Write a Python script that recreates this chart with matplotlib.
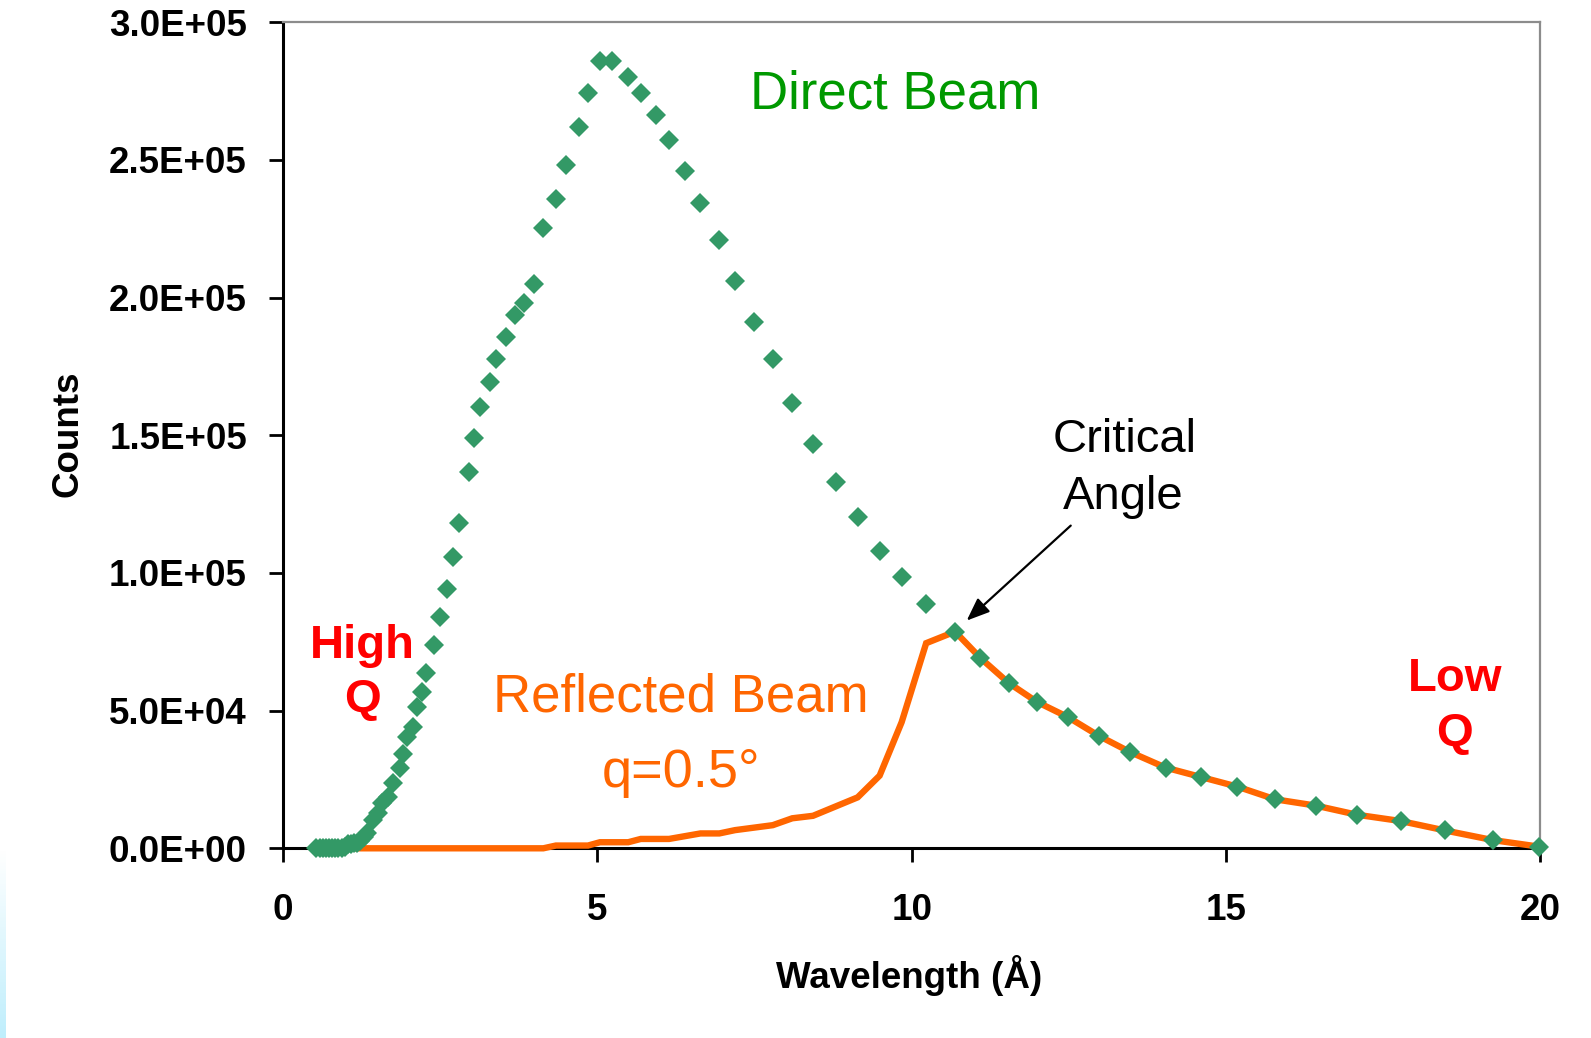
import matplotlib
matplotlib.use("Agg")
import matplotlib.pyplot as plt
from matplotlib.ticker import FuncFormatter, FixedLocator
import numpy as np

# ---------------- data ----------------
wavelength = [0.53, 0.58, 0.63, 0.68, 0.73, 0.78, 0.83, 0.88, 0.93, 0.98,
              1.03, 1.08, 1.13, 1.18, 1.23, 1.28, 1.33, 1.43, 1.51, 1.57,
              1.67, 1.75, 1.86, 1.91, 1.97, 2.07, 2.13, 2.21, 2.28, 2.40,
              2.50, 2.60, 2.70, 2.80, 2.95, 3.04, 3.14, 3.29, 3.39, 3.55,
              3.69, 3.84, 3.99, 4.14, 4.34, 4.50, 4.70, 4.85, 5.04, 5.24,
              5.49, 5.69, 5.94, 6.14, 6.39, 6.64, 6.94, 7.19, 7.49, 7.79,
              8.10, 8.43, 8.79, 9.14, 9.49, 9.84, 10.23, 10.69, 11.09, 11.54,
              11.99, 12.49, 12.98, 13.48, 14.04, 14.60, 15.18, 15.78, 16.43, 17.08,
              17.78, 18.48, 19.24, 19.98]

direct_counts = [0, 0, 0, 0, 0, 0, 0, 0, 0, 300,
                 1500, 1500, 1800, 2000, 2800, 4000, 5400, 10300, 12800, 16500,
                 18600, 23700, 29200, 34300, 40400, 44100, 51300, 56800, 63700, 73700,
                 84000, 94200, 105700, 118000, 136600, 149100, 160400, 169500, 177600, 185600,
                 193600, 198100, 204800, 225400, 235700, 248200, 261900, 274400, 285800, 285800,
                 280200, 274400, 266400, 257400, 246000, 234500, 220800, 206000, 191200, 177600,
                 161600, 146700, 133000, 120400, 108000, 98700, 88600, 78700, 69200, 60100,
                 53200, 47600, 40800, 34900, 29300, 25900, 22400, 17800, 15500, 12200,
                 9900, 6500, 3000, 600]

reflected_counts = [0, 0, 0, 0, 0, 0, 0, 0, 0, 0,
                    0, 0, 0, 0, 0, 0, 0, 0, 0, 0,
                    0, 0, 0, 0, 0, 0, 0, 0, 0, 0,
                    0, 0, 0, 0, 0, 0, 0, 0, 0, 0,
                    0, 0, 0, 0, 1000, 1000, 1000, 1000, 2200, 2200,
                    2200, 3400, 3400, 3400, 4400, 5400, 5400, 6600, 7500, 8400,
                    10900, 11800, 15200, 18500, 26400, 45800, 74500, 78700, 69200, 60100,
                    53200, 47600, 40800, 34900, 29300, 25900, 22400, 17800, 15500, 12200,
                    9900, 6500, 3000, 600]

x_ticks = [0, 5, 10, 15, 20]
y_ticks = [0, 50000, 100000, 150000, 200000, 250000, 300000]

# ---------------- styling ----------------
plt.rcParams['font.family'] = ['Liberation Sans', 'DejaVu Sans']

GREEN_MARK = '#339966'
GREEN_TEXT = '#009900'
ORANGE = '#FF6600'
RED = '#FF0000'

W, H = 1591, 1038
fig = plt.figure(figsize=(W / 100, H / 100), dpi=100)
fig.patch.set_facecolor('white')

# faint light-blue strip at lower left edge (slide background)
strip = fig.add_axes([0, 0, 6 / W, (H - 850) / H])
grad = np.linspace(0, 1, 100).reshape(-1, 1)
strip.imshow(grad, aspect='auto', cmap=matplotlib.colors.LinearSegmentedColormap.from_list(
    'bg', ['#bfeefc', '#ffffff']), origin='lower', extent=[0, 1, 0, 1])
strip.set_axis_off()

ax = fig.add_axes([283.1 / W, 1 - 848.3 / H, (1540.3 - 283.1) / W, (848.3 - 22.3) / H])

ax.plot(wavelength, reflected_counts, color=ORANGE, lw=4.6, zorder=3,
        clip_on=False, solid_joinstyle='miter', solid_capstyle='butt')
ax.plot(wavelength, direct_counts, linestyle='none', marker='D', ms=10.5,
        color=GREEN_MARK, markeredgewidth=0, zorder=4, clip_on=False)

ax.set_xlim(0, 20)
ax.set_ylim(0, 300000)
ax.xaxis.set_major_locator(FixedLocator(x_ticks))
ax.yaxis.set_major_locator(FixedLocator(y_ticks))
ax.yaxis.set_major_formatter(FuncFormatter(lambda v, p: '{:.1E}'.format(v)))
ax.xaxis.set_major_formatter(FuncFormatter(lambda v, p: '%d' % v))

for s in ['left', 'bottom']:
    ax.spines[s].set_color('black')
    ax.spines[s].set_linewidth(2.2)
for s in ['top', 'right']:
    ax.spines[s].set_color('#8c8c8c')
    ax.spines[s].set_linewidth(1.6)

ax.tick_params(axis='both', direction='out', length=10, width=2, color='black',
               top=False, right=False)
ax.tick_params(axis='y', pad=16)
ax.tick_params(axis='x', pad=22)
for lab in ax.get_xticklabels() + ax.get_yticklabels():
    lab.set_fontweight('bold')
    lab.set_fontsize(26.5)

ax.set_ylabel('Counts', fontsize=26.5, fontweight='bold')
ax.set_xlabel('Wavelength (Å)', fontsize=26.5, fontweight='bold')
ax.yaxis.label.set_va('center')
ax.xaxis.label.set_va('center')
ax.yaxis.set_label_coords((67.5 - 283.1) / 1257.2, (848.3 - 434) / 826)
ax.xaxis.set_label_coords((909 - 283.1) / 1257.2, (848.3 - 976) / 826)

# ---------------- annotations ----------------
ax.text(9.74, 268800, 'Direct Beam', color=GREEN_TEXT, fontsize=38,
        ha='center', va='baseline')
ax.text(6.33, 49600, 'Reflected Beam', color=ORANGE, fontsize=38,
        ha='center', va='baseline')
ax.text(6.33, 22400, 'q=0.5°', color=ORANGE, fontsize=39,
        ha='center', va='baseline')
ax.text(13.39, 143800, 'Critical', color='black', fontsize=34,
        ha='center', va='baseline')
ax.text(13.37, 123100, 'Angle', color='black', fontsize=34,
        ha='center', va='baseline')
ax.text(1.263, 69000, 'High', color=RED, fontsize=34, fontweight='bold',
        ha='center', va='baseline')
ax.text(1.263, 49600, 'Q', color=RED, fontsize=34, fontweight='bold',
        ha='center', va='baseline')
ax.text(18.64, 57200, 'Low', color=RED, fontsize=34, fontweight='bold',
        ha='center', va='baseline')
ax.text(18.64, 37200, 'Q', color=RED, fontsize=34, fontweight='bold',
        ha='center', va='baseline')

ax.annotate('', xy=(10.875, 82700), xytext=(12.53, 117200),
            arrowprops=dict(arrowstyle='-|>,head_length=0.5,head_width=0.2',
                            color='black', lw=1.6, mutation_scale=28,
                            shrinkA=0, shrinkB=0), zorder=5)

fig.savefig('out.png', dpi=100, facecolor='white')
